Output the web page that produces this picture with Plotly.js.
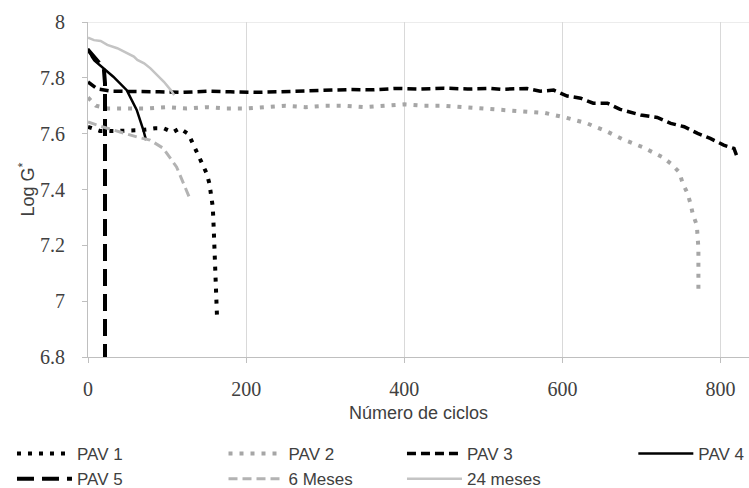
<!DOCTYPE html>
<html>
<head>
<meta charset="utf-8">
<script src="https://cdn.plot.ly/plotly-3.0.1.min.js"></script>
<style>
  html, body { margin: 0; padding: 0; background: #ffffff; }
  #chart { width: 749px; height: 488px; }
  #chart .xtick text, #chart .ytick text {
    font-family: "Liberation Serif", "Times New Roman", Times, "DejaVu Serif", serif !important;
  }
</style>
</head>
<body>
<div id="chart"></div>
<script>
// ---- Data ----
var pav1X = [0, 15, 40, 68, 85, 96, 107, 116, 127, 132.5, 139.6, 145, 150, 153.5, 155.7, 157.8, 159, 160.4, 161.6, 162, 163.3];
var pav1Y = [7.624, 7.61, 7.61, 7.613, 7.619, 7.619, 7.605, 7.619, 7.599, 7.565, 7.529, 7.494, 7.458, 7.422, 7.38, 7.338, 7.26, 7.177, 7.1, 7.015, 6.934];

var pav2X = [0, 10, 25, 50, 75, 100, 125, 150, 175, 200, 225, 250, 275, 300, 325, 350, 375, 400, 425, 450, 475, 500, 524, 551, 578, 605, 631, 657, 677, 702, 727, 738, 748, 752, 758, 762, 765, 770, 771, 772, 772];
var pav2Y = [7.73, 7.70, 7.69, 7.69, 7.69, 7.695, 7.69, 7.695, 7.69, 7.69, 7.695, 7.70, 7.695, 7.70, 7.70, 7.695, 7.70, 7.705, 7.70, 7.70, 7.695, 7.69, 7.685, 7.677, 7.674, 7.657, 7.637, 7.607, 7.579, 7.551, 7.515, 7.491, 7.461, 7.423, 7.388, 7.35, 7.311, 7.272, 7.231, 7.19, 7.03];

var pav3X = [0, 12, 30, 60, 90, 120, 150, 180, 210, 240, 270, 300, 330, 360, 390, 420, 450, 480, 510, 522, 555, 572, 589, 606, 623, 639, 657, 673, 699, 720, 737, 754, 771, 787, 804, 817, 821];
var pav3Y = [7.785, 7.76, 7.752, 7.752, 7.75, 7.748, 7.752, 7.75, 7.748, 7.75, 7.753, 7.755, 7.758, 7.757, 7.762, 7.76, 7.763, 7.76, 7.762, 7.759, 7.762, 7.752, 7.756, 7.735, 7.727, 7.709, 7.709, 7.687, 7.667, 7.658, 7.637, 7.625, 7.601, 7.583, 7.559, 7.547, 7.517];

var pav4X = [0, 2.5, 5, 8, 15, 32, 49, 61.6, 70, 73.4];
var pav4Y = [7.905, 7.889, 7.875, 7.862, 7.846, 7.804, 7.756, 7.685, 7.613, 7.577];

var pav5X = [0, 10, 20, 21.5, 21.5];
var pav5Y = [7.90, 7.865, 7.835, 7.78, 6.8];

var meses6X = [0, 15, 40.5, 62, 78.5, 95, 112, 120, 128];
var meses6Y = [7.642, 7.627, 7.606, 7.588, 7.577, 7.548, 7.481, 7.428, 7.373];

var meses24X = [0, 7.6, 16, 24.4, 37, 45.6, 58, 62.4, 71, 79, 83.5, 96, 104.7, 109];
var meses24Y = [7.944, 7.935, 7.932, 7.918, 7.906, 7.894, 7.876, 7.864, 7.852, 7.834, 7.822, 7.786, 7.756, 7.738];

var xTickVals = [0, 200, 400, 600, 800];
var xTickText = ['0', '200', '400', '600', '800'];
var yTickVals = [6.8, 7, 7.2, 7.4, 7.6, 7.8, 8];
var yTickText = ['6.8', '7', '7.2', '7.4', '7.6', '7.8', '8'];

var seriesNames = ['PAV 1', 'PAV 2', 'PAV 3', 'PAV 4', 'PAV 5', '6 Meses', '24 meses'];
var xTitle = 'Número de ciclos';
var yTitle = 'Log G<sup>*</sup>';

// ---- Traces ----
function mk(name, x, y, color, width, dash, legendId) {
  return {
    type: 'scatter', mode: 'lines', name: name, x: x, y: y,
    line: { color: color, width: width, dash: dash },
    legend: legendId, hoverinfo: 'skip'
  };
}

var traces = [
  mk(seriesNames[0], pav1X, pav1Y, '#000000', 4, '4px,7px', 'legend'),
  mk(seriesNames[1], pav2X, pav2Y, '#a6a6a6', 4, '4px,7px', 'legend2'),
  mk(seriesNames[2], pav3X, pav3Y, '#000000', 3.5, '9px,5px', 'legend3'),
  mk(seriesNames[3], pav4X, pav4Y, '#000000', 2.5, 'solid', 'legend4'),
  mk(seriesNames[4], pav5X, pav5Y, '#000000', 4, '17px,8px', 'legend'),
  mk(seriesNames[5], meses6X, meses6Y, '#b3b3b3', 3, '9px,5px', 'legend2'),
  mk(seriesNames[6], meses24X, meses24Y, '#c4c4c4', 2.5, 'solid', 'legend3')
];

var legFont = { family: 'Liberation Sans', size: 17, color: '#404040' };
function leg(x, y) {
  return {
    x: x, y: y, xanchor: 'left', yanchor: 'top', orientation: 'v',
    font: legFont, bgcolor: 'rgba(0,0,0,0)', borderwidth: 0,
    itemwidth: 55, tracegroupgap: 0, traceorder: 'normal', itemclick: false
  };
}

var serifFont = { family: 'Liberation Serif', size: 20, color: '#404040' };
var titleFont = { family: 'Liberation Sans', size: 18, color: '#404040' };

var layout = {
  width: 749, height: 488,
  margin: { l: 88, r: 0, t: 22, b: 131, pad: 0, autoexpand: false },
  paper_bgcolor: '#ffffff', plot_bgcolor: '#ffffff',
  showlegend: true,
  xaxis: {
    range: [0, 836], tickmode: 'array', tickvals: xTickVals, ticktext: xTickText,
    showgrid: true, gridcolor: '#d9d9d9', gridwidth: 1, zeroline: false,
    showline: true, linecolor: '#bfbfbf', linewidth: 1,
    ticks: 'outside', ticklen: 5, tickcolor: '#bfbfbf', ticklabelstandoff: 9,
    tickfont: serifFont, automargin: false,
    title: { text: xTitle, standoff: 7, font: titleFont },
    fixedrange: true
  },
  yaxis: {
    range: [6.8, 8], tickmode: 'array', tickvals: yTickVals, ticktext: yTickText,
    showgrid: false, zeroline: false,
    showline: true, linecolor: '#bfbfbf', linewidth: 1,
    ticks: 'outside', ticklen: 5, tickcolor: '#bfbfbf', ticklabelstandoff: 13,
    tickfont: serifFont, automargin: false,
    title: { text: yTitle, standoff: 0, font: titleFont },
    fixedrange: true
  },
  shapes: [
    { type: 'line', xref: 'paper', x0: 0, x1: 1, yref: 'y', y0: 8, y1: 8, layer: 'below',
      line: { color: '#d9d9d9', width: 1 } }
  ],
  legend: leg(-0.115, -0.236),
  legend2: leg(0.205, -0.236),
  legend3: leg(0.475, -0.236),
  legend4: leg(0.825, -0.236)
};

Plotly.newPlot('chart', traces, layout, { displayModeBar: false, staticPlot: true });
</script>
</body>
</html>
